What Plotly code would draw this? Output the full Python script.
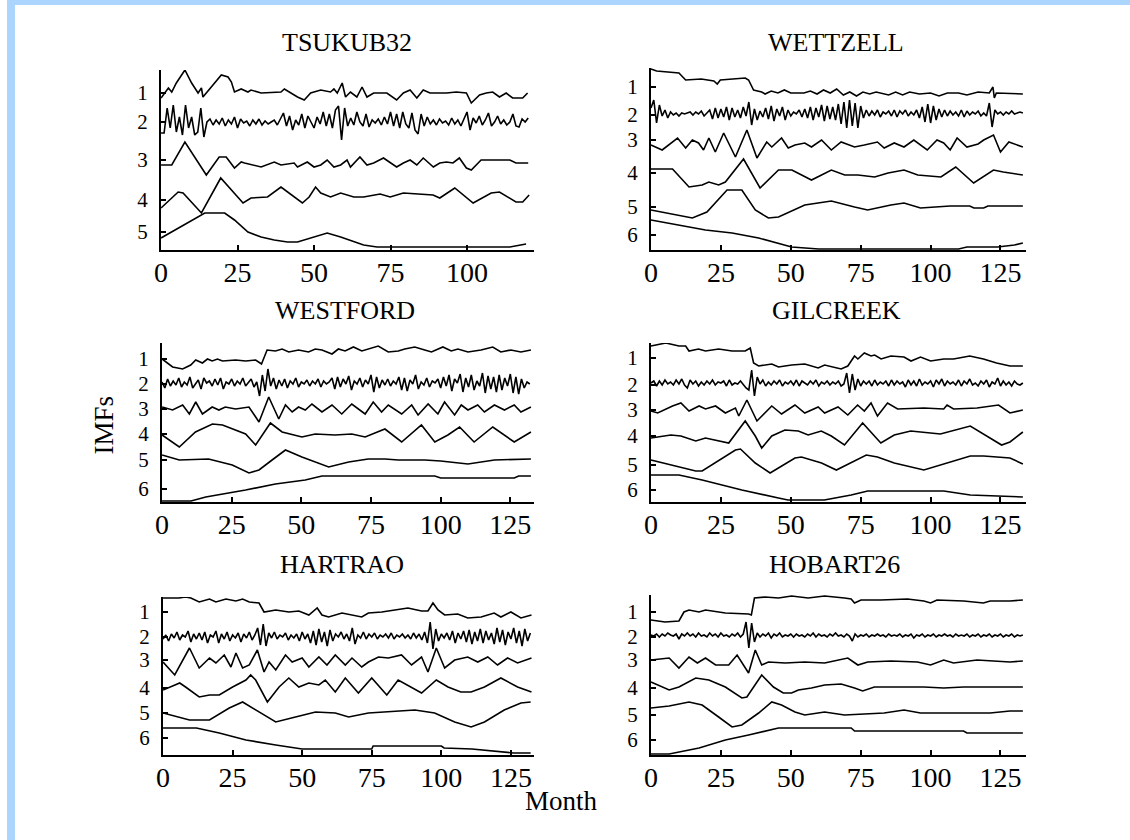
import plotly.graph_objects as go

# ---------------- data (heights, arbitrary units) ----------------
STATIONS = ["TSUKUB32", "WETTZELL", "WESTFORD", "GILCREEK", "HARTRAO", "HOBART26"]
X_TICKS = [0, 25, 50, 75, 100, 125]
IMF_LABELS = ["1", "2", "3", "4", "5", "6"]

# label positions of each IMF on the panel's vertical scale
T_LEVELS = [157, 128, 90, 50, 18]
W_LEVELS = [163, 135, 110, 77, 43, 15]
WF_LEVELS = [143, 118, 93, 68, 42, 13]
G_LEVELS = [144, 117, 92, 66, 37, 12]
HA_LEVELS = [143, 118, 95, 67, 42, 17]
HO_LEVELS = [143, 118, 95, 67, 40, 15]

# ---- TSUKUB32 ----
T_IMF1 = [(0,152),(2.4,162),(3.5,158),(5,167),(7.8,180),(10,167),(12.1,157),(13.2,162),(13.7,153),(14.8,157),
          (19.7,175),(21.9,173),(23,168),(24,158),(26.2,161),(28.4,158),(29.4,160),(32.7,157),(39.2,158),(40.3,161),
          (42.4,157),(44.6,153),(46.8,150),(48.9,157),(52.2,160),(55.4,158),(56.5,161),(57.6,157),(59.2,167),(60.3,153),
          (61.9,158),(64,153),(65.7,163),(67.3,153),(69.5,157),(73.8,157),(77,150),(79.2,157),(81.4,160),(83.6,152),
          (85.7,160),(87.9,157),(93.3,157),(96.5,158),(99.8,157),(101.4,147),(104.1,155),(106.3,157),(108.4,158),
          (110.6,153),(112.8,157),(114.9,152),(118.2,152),(119.8,157)]
T_IMF2 = [117,117,142,122,145,118,133,115,145,122, 133,115,118,142,113,128,131,125,130,126,
          132,124,130,126,133,122,131,127,129,124, 130,126,131,125,129,126,128,130,125,131,
          137,124,134,120,130,125,136,122,134,128, 122,133,126,138,124,136,122,140,144,110,
          142,124,132,125,138,128,124,136,123,130, 127,131,125,133,126,138,124,136,122,138,
          126,122,137,120,116,136,124,133,126,130, 125,131,127,129,125,132,126,130,124,131,
          138,120,132,127,134,125,130,137,124,128, 134,126,130,125,128,136,124,123,131,128,
          132]
T_IMF3 = [(0,85),(3.5,85),(7.8,108),(14.8,75),(19,93),(21.3,93),(24,82),(26.2,88),(27.3,87),(32.7,83),(37,88),
          (39.2,85),(43.5,87),(44.6,83),(47.8,88),(50,83),(52.2,85),(54.3,90),(56.5,83),(58.7,85),(60.8,90),(61.9,83),
          (65,93),(67.3,85),(69.5,87),(72.7,92),(77,83),(79.2,87),(81.4,90),(83.6,85),(85.7,92),(89,83),(91.1,87),
          (93.3,88),(95.4,87),(97.5,92),(99.8,82),(101.4,80),(104.6,90),(114,90),(116,87),(120,87)]
T_IMF4 = [(0,42),(5.6,58),(7.2,57),(13.2,37),(19.5,72),(26.2,48),(26.8,47),(29.4,52),(34.8,53),(39.2,63),
          (43.5,53),(46.2,47),(48.4,53),(50.5,63),(52.2,57),(55.4,53),(58.7,57),(63,53),(66.2,53),(71.6,56),
          (74.9,53),(79.2,57),(88.9,55),(91.1,52),(96,62),(102,47),(107.9,57),(110.6,58),(116,48),(118.2,48),(120.3,55)]
T_IMF5 = [(0,12),(14.3,37),(20.8,37),(24,30),(28.4,18),(32.7,13),(37,10),(41.3,8),(44.6,8),(50,13),(54.3,17),
          (58.7,13),(63,8),(66.2,5),(70.6,3),(114,3),(119.3,6)]

# ---- WETTZELL ----
W_IMF1 = [(0,181),(2,179),(10,177),(12.4,170),(18,171),(22.5,169),(23.7,166),(24.8,170),(33.7,172),(34.9,170),
          (36.7,160),(39.6,158),(40.8,156),(43,159),(45.4,157),(47.7,160),(50,157),(54.7,157),(57,159),(59.4,156),
          (61.7,160),(64.1,157),(66.4,161),(68.8,155),(71.1,158),(73.5,154),(75.8,158),(78.2,156),(80.5,158),(85,155),
          (87.5,158),(90,155),(92.5,158),(96,156),(100,157),(103,154),(106,157),(110,157),(113,155),(117,158),
          (121,157),(122.3,163),(122.8,152),(123.5,157),(133,156)]
W_IMF2 = [142,150,127,145,134,140,132,138,135,137, 134,137,136,137,138,135,138,136,139,134,
          137,140,131,142,132,141,133,143,130,142, 133,140,132,143,134,148,125,141,130,139,
          133,142,131,144,129,141,134,143,130,140, 134,138,136,140,133,141,132,143,130,142,
          133,145,129,144,131,143,130,146,126,148, 122,150,124,147,122,144,132,140,134,139,
          135,140,133,138,136,139,134,140,133,139, 136,140,134,138,135,140,132,143,128,146,
          127,144,130,141,133,140,134,139,135,138, 134,140,133,139,135,138,136,139,134,137,
          134,147,123,140,136,138,135,138,136,139, 136,137,138,137]
W_IMF3 = [(0,105),(4,100),(9.5,112),(12.4,102),(14.8,110),(17,107),(18.8,100),(20.7,112),(23,98),(26,117),
          (30.2,93),(34.3,120),(37.9,92),(39.6,100),(41.4,108),(43.2,103),(46.7,112),(49.1,102),(51.5,105),(55,107),
          (57.4,103),(61,110),(64.5,100),(68,108),(72.8,103),(76.3,105),(81,108),(83.4,102),(87,107),(90.5,103),
          (94,110),(98.8,100),(102.3,110),(104.7,107),(107,100),(109.5,112),(113,103),(117,106),(119,110),
          (122.5,115),(125,98),(128,108),(133,103)]
W_IMF4 = [(0,81),(7.7,81),(13.6,63),(18.3,65),(20.7,68),(24.2,65),(26.6,68),(33.1,91),(39,62),(45.6,80),
          (50.4,80),(53.8,75),(57.4,70),(61,75),(64.5,80),(69.3,75),(74,75),(80,73),(84.8,77),(90.5,80),(95.4,75),
          (103.7,73),(109,83),(115.4,67),(122.5,80),(126,78),(133,75)]
W_IMF5 = [(0,40),(14.8,32),(20,38),(27.2,60),(32.5,60),(37.3,40),(42,32),(45.6,33),(55,45),(64.5,49),(72.8,43),
          (77.5,40),(85.8,45),(90.5,47),(96.4,42),(103.7,43),(107,44),(114,44),(115.5,42),(119,42),(120.5,44),(133,44)]
W_IMF6 = [(0,30),(19.5,20),(29,17),(38.5,12),(50.3,3),(60,1),(110,1),(113,3),(124,3),(130,5),(133,7)]

# ---- WESTFORD ----
WF_IMF1 = [(0,143),(3.8,135),(7.4,133),(10.3,137),(12.1,142),(14.5,139),(16.3,143),(18,141),(19.9,143),(21.7,141),
           (26.4,142),(30,141),(33.6,142),(35.7,138),(37.7,152),(40.7,151),(43.1,153),(45.5,150),(49,152),(52.6,150),
           (55,153),(57.4,152),(61,148),(63.3,153),(65.7,151),(68.7,155),(71.7,151),(74,153),(77.6,156),(81.2,150),
           (84.8,151),(87.1,153),(90.7,155),(94.3,152),(96.7,150),(100.8,155),(103.8,151),(106.2,153),(109.8,150),
           (114.5,152),(118.7,155),(121.6,150),(125.2,152),(128.8,150),(132.4,152)]
WF_IMF2 = [120,114,123,116,121,117,124,115,120,117, 125,114,118,122,113,124,119,121,116,123,
           117,124,113,120,118,123,116,121,118,124, 116,120,123,115,120,106,127,111,133,116,
           124,113,122,116,123,114,121,118,124,115, 120,118,122,116,121,118,123,115,121,118,
           120,124,113,125,115,123,118,126,112,121, 118,124,115,122,118,127,110,125,114,122,
           117,123,116,121,118,125,112,124,111,122, 118,127,113,120,117,124,115,121,119,123,
           114,125,116,127,111,123,119,128,110,124, 115,127,112,121,116,129,109,126,113,125,
           110,127,112,124,116,128,109,125,108,123, 114,120,118]
WF_IMF3 = [(0,95),(3.8,92),(7.4,97),(9.8,88),(12.1,100),(14.5,88),(18,95),(20.4,92),(22.7,95),(26.4,93),(31.2,95),
           (34.8,80),(38.3,105),(41.9,83),(44.3,97),(46.7,90),(49,95),(51.4,92),(53.8,98),(57.4,90),(61,97),(64.5,88),
           (68.1,98),(72.9,88),(75.8,100),(78.8,90),(81.2,97),(86,88),(89.6,97),(91.9,87),(95.5,98),(99,88),(101.4,100),
           (105,87),(107.4,97),(109.8,92),(113.3,97),(115.7,90),(119.3,97),(122.9,92),(126.4,97),(128.8,90),(132.4,95)]
WF_IMF4 = [(0,67),(6.2,55),(12,70),(18.1,78),(21.7,77),(26.4,72),(30,68),(33.6,57),(38.9,79),(43.1,70),(50.2,65),
           (55,68),(62.1,67),(68.1,68),(72.9,65),(80,73),(86,60),(93.1,77),(97.9,60),(102.6,67),(106.8,75),(112,60),
           (118.7,75),(126.4,60),(132.4,70)]
WF_IMF5 = [(0,47),(6.2,42),(16.7,43),(25.2,37),(31.2,29),(34.8,32),(39.5,42),(44.3,52),(50.2,45),(59.8,35),(67,40),
           (74,43),(80,43),(84.8,42),(94.3,42),(100,41),(109.8,38),(114,40),(119.3,42),(132.4,43)]
WF_IMF6 = [(0,1),(10.4,1),(15.7,5),(30,12),(40.7,18),(51.4,22),(57.4,26),(97.9,26),(100,24),(126.4,24),(128,26),(132.4,26)]

# ---- GILCREEK ----
G_IMF1 = [(0,156),(5.3,159),(10,156),(12.4,156),(13.6,151),(17,153),(19.5,151),(24.2,153),(29,151),(33.7,151),
          (35.5,154),(36.7,139),(38.5,136),(43.2,138),(45.6,135),(50.3,137),(55,138),(59.8,134),(62.1,137),(68,133),
          (70.4,136),(72.8,146),(74,143),(76.3,149),(78.7,146),(80,147),(82.3,143),(85.8,146),(90.5,145),(93,141),
          (96.4,145),(100,141),(104.7,143),(108.2,143),(114,146),(118.9,143),(123.6,139),(128.4,136),(133,136)]
G_IMF2 = [119,121,116,121,117,122,118,120,117,122, 118,123,117,114,122,118,121,116,120,117,
          121,118,122,117,120,119,121,116,122,117, 119,118,121,117,114,112,132,106,125,118,
          122,116,120,117,121,118,122,116,120,118, 121,117,122,116,121,119,117,121,118,122,
          116,120,118,121,117,120,118,121,116,118, 129,109,128,112,123,116,121,118,121,116,
          122,117,120,118,121,116,122,117,121,118, 120,115,122,117,121,116,123,117,120,118,
          121,115,122,118,123,116,121,118,120,117, 122,116,121,118,123,117,119,116,121,118,
          122,115,120,118,124,116,121,117,120,116, 121,118,117,119]
G_IMF3 = [(0,91),(2.4,89),(7.7,96),(10.7,99),(13.6,91),(17.2,96),(19.5,93),(23.1,96),(26.6,89),(30.2,94),(31.4,86),
          (34.3,102),(37.9,81),(43.2,96),(46.7,88),(51.5,97),(55,89),(59.8,95),(62.1,89),(66.9,95),(70.4,87),(73.9,97),
          (76.3,91),(78.7,99),(81,86),(84.6,99),(88.2,93),(97.6,94),(104.7,93),(105.9,97),(108.2,93),(116.6,94),
          (124.3,97),(128.4,89),(133,92)]
G_IMF4 = [(0,64),(7.1,67),(10.7,66),(16,61),(19.5,64),(23.1,62),(27.8,59),(33.7,81),(37.3,66),(39.6,54),(43.2,66),
          (47.9,72),(52.7,71),(56.2,67),(60.9,71),(64.5,66),(69.2,57),(75.7,79),(82.2,59),(87,67),(92.9,71),(103.5,68),
          (114.2,76),(125.4,57),(128.4,60),(133,70)]
G_IMF5 = [(0,42),(16,31),(18.3,31),(30.2,52),(32,53),(37.3,39),(42.6,29),(51.5,44),(53.8,45),(61,39),(66.3,32),
          (77,47),(81,45),(87,39),(97.6,32),(105.9,39),(114.2,46),(119,46),(128.4,44),(133,38)]
G_IMF6 = [(0,27),(10,27),(18.3,22),(32.5,12),(45.6,4),(49,2),(62,2),(71.6,7),(77.5,11),(104.7,11),(114.2,7),
          (128.4,6),(133,5)]

# ---- HARTRAO ----
HA_IMF1 = [(0,157),(5.7,157),(8.1,158),(10,157),(13,153),(16.7,156),(19,153),(22.6,156),(26.2,154),(28.6,156),
           (31,153),(34.5,152),(36.3,143),(40.5,145),(45.2,143),(48.8,144),(52.4,140),(55.4,147),(57.1,140),(59.5,138),
           (64.3,142),(67.9,140),(71.4,138),(73.8,142),(78.6,143),(83.3,145),(88,147),(92.9,144),(95.2,144),(97,152),
           (98.8,145),(101.2,140),(105.9,141),(109.5,137),(114.3,138),(119,142),(121.4,138),(125,143),(128.6,137),
           (132.4,140)]
HA_IMF2 = [116,120,114,121,117,123,115,120,118,124, 113,121,116,122,115,123,112,120,118,124,
           112,121,116,123,114,120,117,122,113,121, 117,123,115,120,127,110,131,109,122,117,
           123,116,120,118,122,115,120,117,121,114, 123,116,121,112,124,110,126,113,123,109,
           125,114,121,118,123,116,121,114,127,111, 120,117,123,116,121,118,122,116,120,118,
           121,117,122,116,120,118,121,117,120,116, 122,117,121,115,123,112,133,106,126,114,
           121,117,122,115,124,112,122,116,124,113, 125,111,123,114,126,112,124,115,122,111,
           127,113,125,110,123,116,127,112,124,109, 126,114,122]
HA_IMF3 = [(0,93),(4.2,80),(9.5,107),(13,87),(16.7,97),(19,92),(22,100),(24.4,88),(26.2,102),(28.6,87),(31,90),
           (33.9,105),(36.3,83),(38.1,93),(40.5,85),(44,100),(46.4,93),(50,97),(52.4,88),(56,98),(58.9,90),(61.9,100),
           (65.5,90),(67.9,97),(71.4,88),(73.8,93),(77.4,98),(81,97),(85.7,100),(89.3,90),(92.9,98),(95.2,83),
           (98.2,107),(101.2,87),(104.8,95),(109.5,98),(113.1,93),(116.7,98),(120.2,90),(123.8,97),(127.4,92),(132.4,97)]
HA_IMF4 = [(0,65),(6,72),(8.1,68),(13,58),(16.7,60),(20.2,60),(25,68),(29.8,75),(31.5,80),(33.3,75),(37.5,53),
           (41.7,68),(45.2,77),(48.8,68),(52.4,72),(56,70),(58.3,75),(61.9,63),(65.5,77),(70.2,62),(75,77),(80.4,60),
           (84.5,75),(89.3,68),(92.9,62),(98.2,75),(102.4,68),(107,63),(110.7,63),(115.5,68),(121.4,77),(127.4,68),
           (132.4,63)]
HA_IMF5 = [(0,42),(9.5,35),(16.7,35),(23.8,47),(28.6,53),(33.3,45),(40.5,33),(47.6,38),(54.8,43),(61.9,42),
           (66.7,38),(73.8,42),(81,43),(90.5,45),(97.6,42),(104.8,33),(110.7,28),(115.5,33),(122.6,45),(128.6,52),
           (132.1,53)]
HA_IMF6 = [(0,27),(12,27),(20.2,22),(29.8,15),(40.5,10),(47.6,7),(50,6),(75,6),(75.5,9),(100,9),(101,7),(111,6),
           (119,4),(126,2),(132.1,2)]

# ---- HOBART26 ----
HO_IMF1 = [(0,135),(5,133),(10,134),(11.8,143),(13.6,145),(17.2,143),(19.5,145),(26.6,142),(34.9,141),(35.9,140),
           (37,157),(40.8,158),(45.6,157),(50.3,159),(56.2,157),(62.1,159),(69.2,157),(71.6,156),(72.8,152),(75.1,155),
           (82.2,155),(91.7,156),(97.6,154),(100,152),(102.3,155),(111.8,154),(118.9,152),(121.3,154),(128.4,154),
           (133,155)]
HO_IMF2 = [120,119,121,118,121,119,122,120,119,121, 116,121,119,122,119,121,118,122,119,120,
           118,122,119,121,118,122,119,120,118,121, 119,122,118,121,133,107,132,113,122,118,
           121,119,122,117,121,119,122,118,120,119, 121,118,121,119,120,118,121,119,122,118,
           121,119,120,118,121,119,122,119,120,118, 121,119,114,121,118,120,119,121,118,120,
           119,121,119,120,118,121,119,120,119,121, 118,120,119,121,117,120,119,121,118,120,
           119,121,118,120,119,121,119,120,118,121, 119,120,119,121,118,120,119,121,118,120,
           119,121,118,120,119,121,118,120,119,121, 118,120,119,120]
HO_IMF3 = [(0,95),(6.5,97),(10,87),(13.6,98),(16.6,92),(19.5,97),(23.1,90),(27.8,90),(30.8,100),(32.5,92),(34.9,82),
           (37.3,105),(39.6,90),(42,93),(48,92),(55,93),(62.1,92),(70.4,97),(74,90),(77.5,93),(85.8,94),(95.3,93),
           (100,90),(104.7,95),(108.2,92),(116.6,95),(121,94),(128.4,93),(133,94)]
HO_IMF4 = [(0,73),(6.5,65),(10,68),(16,77),(20.7,75),(26.6,68),(32.5,57),(34.3,58),(39.6,80),(43.8,68),(47.3,62),
           (50.3,62),(52.7,65),(57.4,67),(62.1,70),(68,71),(72.8,67),(75.7,64),(79.9,68),(97.6,68),(104.7,67),
           (111.8,68),(133,68)]
HO_IMF5 = [(0,47),(6.5,49),(13.6,53),(18.3,50),(24.2,38),(29,28),(32.5,30),(38.5,42),(43.2,53),(46.7,50),(51.5,43),
           (55,40),(62.1,43),(69.2,40),(83.4,42),(90.5,45),(96.4,42),(121.3,42),(128.4,44),(133,44)]
HO_IMF6 = [(0,1),(6.5,1),(17.2,7),(26.6,15),(34.9,20),(42,25),(45.6,27),(71.6,27),(72.8,24),(111.8,24),(113,22),(133,22)]

SERIES = {
    "TSUKUB32": [T_IMF1, T_IMF2, T_IMF3, T_IMF4, T_IMF5],
    "WETTZELL": [W_IMF1, W_IMF2, W_IMF3, W_IMF4, W_IMF5, W_IMF6],
    "WESTFORD": [WF_IMF1, WF_IMF2, WF_IMF3, WF_IMF4, WF_IMF5, WF_IMF6],
    "GILCREEK": [G_IMF1, G_IMF2, G_IMF3, G_IMF4, G_IMF5, G_IMF6],
    "HARTRAO": [HA_IMF1, HA_IMF2, HA_IMF3, HA_IMF4, HA_IMF5, HA_IMF6],
    "HOBART26": [HO_IMF1, HO_IMF2, HO_IMF3, HO_IMF4, HO_IMF5, HO_IMF6],
}
LEVELS = {"TSUKUB32": T_LEVELS, "WETTZELL": W_LEVELS, "WESTFORD": WF_LEVELS,
          "GILCREEK": G_LEVELS, "HARTRAO": HA_LEVELS, "HOBART26": HO_LEVELS}

# ---------------- layout (pixel boxes of the panels) ----------------
W, H = 1130, 840
# (left, right, top, bottom) in pixels, x span in months, y span in height units
BOXES = {
    "TSUKUB32": (155, 530, 70, 250, 121.8, 180),
    "WETTZELL": (648, 1025, 68, 250, 134, 182),
    "WESTFORD": (156, 530, 343, 502, 133.4, 159),
    "GILCREEK": (648, 1025, 343, 502, 134, 159),
    "HARTRAO": (157, 530, 597, 755, 133.2, 158),
    "HOBART26": (648, 1025, 595, 755, 134, 160),
}
FONT = "Liberation Serif"

fig = go.Figure()
layout = dict(width=W, height=H, autosize=False, margin=dict(l=0, r=0, t=0, b=0),
              paper_bgcolor="white", plot_bgcolor="rgba(0,0,0,0)", showlegend=False)
annotations = []

for i, name in enumerate(STATIONS, start=1):
    l, r, t, b, xs, ys = BOXES[name]
    sfx = "" if i == 1 else str(i)
    for s in SERIES[name]:
        if isinstance(s[0], tuple):
            xv = [p[0] for p in s]
            yv = [p[1] for p in s]
        else:
            xv = list(range(len(s)))
            yv = s
        fig.add_trace(go.Scatter(x=xv, y=yv, mode="lines", xaxis="x" + sfx, yaxis="y" + sfx,
                                 line=dict(color="black", width=1.6), hoverinfo="skip"))
    common = dict(showline=True, linecolor="black", linewidth=2, showgrid=False, zeroline=False,
                  ticks="inside", ticklen=5, tickwidth=1.5, tickcolor="black",
                  tickfont=dict(family=FONT, size=28, color="black"))
    layout["xaxis" + sfx] = dict(common, domain=[l / W, r / W], range=[0, xs], anchor="y" + sfx,
                                 tickmode="array", tickvals=X_TICKS, ticklabelstandoff=-4)
    lev = LEVELS[name]
    layout["yaxis" + sfx] = dict(common, domain=[1 - b / H, 1 - t / H], range=[0, ys], anchor="x" + sfx,
                                 tickmode="array", tickvals=lev, ticktext=IMF_LABELS[:len(lev)],
                                 tickfont=dict(family=FONT, size=21, color="black"), ticklabelstandoff=7)

TITLE_POS = {"TSUKUB32": (342, 42), "WETTZELL": (834, 42), "WESTFORD": (340, 310),
             "GILCREEK": (835, 310), "HARTRAO": (337, 564), "HOBART26": (833, 564)}
for name, (x, y) in TITLE_POS.items():
    annotations.append(dict(text=name, x=x / W, y=1 - y / H, xref="paper", yref="paper",
                            showarrow=False, font=dict(family=FONT, size=26, color="black"),
                            xanchor="center", yanchor="middle"))
annotations.append(dict(text="Month", x=558 / W, y=1 - 801 / H, xref="paper", yref="paper", showarrow=False,
                        font=dict(family=FONT, size=27, color="black"), xanchor="center", yanchor="middle"))
annotations.append(dict(text="IMFs", x=98 / W, y=1 - 425 / H, xref="paper", yref="paper", showarrow=False,
                        textangle=-90, font=dict(family=FONT, size=27, color="black"),
                        xanchor="center", yanchor="middle"))
layout["annotations"] = annotations
layout["shapes"] = [
    dict(type="rect", xref="paper", yref="paper", x0=0, x1=8 / W, y0=0, y1=1,
         fillcolor="#abd5fd", line=dict(width=0), layer="below"),
    dict(type="rect", xref="paper", yref="paper", x0=0, x1=1, y0=1 - 5 / H, y1=1,
         fillcolor="#abd5fd", line=dict(width=0), layer="below"),
]
fig.update_layout(**layout)
# remove the page's default body margin so the figure sits at the window's top-left corner
fig.write_html("out.html", config={"displayModeBar": False},
               post_script="document.body.style.margin='0px';document.body.style.overflow='hidden';")
